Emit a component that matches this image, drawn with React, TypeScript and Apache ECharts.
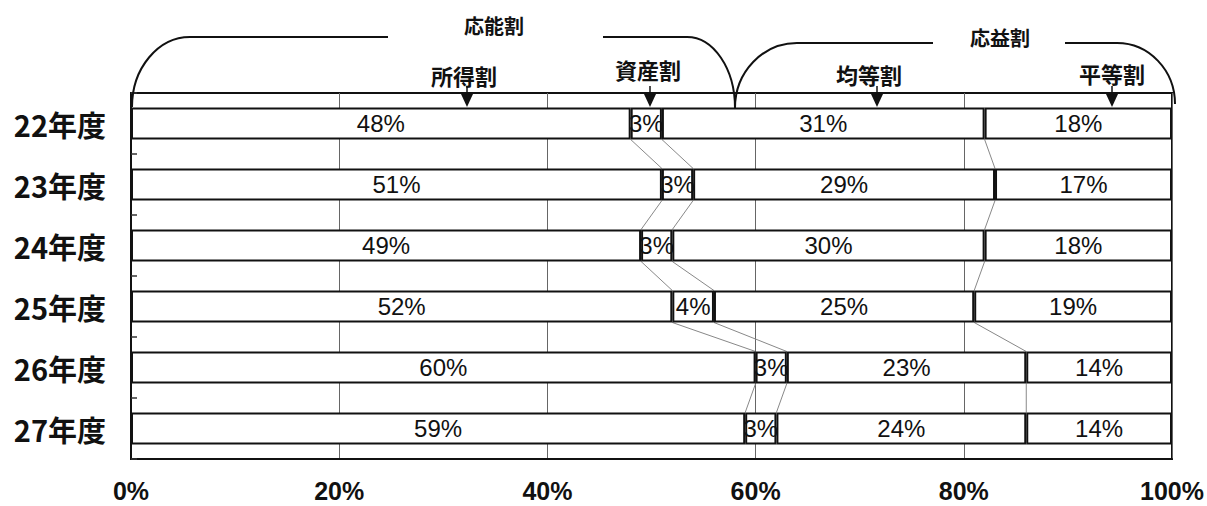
import React, { useEffect, useRef } from "react";
import * as echarts from "echarts";

const categories = ["22年度", "23年度", "24年度", "25年度", "26年度", "27年度"];
const seriesNames = ["所得割", "資産割", "均等割", "平等割"];
const shotoku = [48, 51, 49, 52, 60, 59];
const shisan = [3, 3, 3, 4, 3, 3];
const kintou = [31, 29, 30, 25, 23, 24];
const byoudou = [18, 17, 18, 19, 14, 14];
const xTicks = [0, 20, 40, 60, 80, 100];
const groupNames = ["応能割", "応益割"];

const LAT = "'Liberation Sans', Arial, sans-serif";
const CJK = "'Noto Sans CJK JP', 'Noto Sans', sans-serif";
const BAR_W = 32;

export default function App() {
  const ref = useRef<HTMLDivElement>(null);
  useEffect(() => {
    document.body.style.margin = "0";
    if (!ref.current) return;
    const chart = echarts.init(ref.current, null, { renderer: "svg" });
    const values = [shotoku, shisan, kintou, byoudou];
    const cum1 = shotoku.map((v) => v);
    const cum2 = shotoku.map((v, i) => v + shisan[i]);
    const cum3 = shotoku.map((v, i) => v + shisan[i] + kintou[i]);
    const bounds = [cum1, cum2, cum3];

    const barSeries = seriesNames.map((name, si) => ({
      name,
      type: "bar",
      stack: "total",
      barWidth: BAR_W,
      data: values[si],
      z: 3,
      itemStyle: { color: "#ffffff", borderColor: "#111", borderWidth: 2 },
      label: {
        show: true,
        position: "inside",
        formatter: "{c}%",
        color: "#111",
        fontSize: 24,
        fontFamily: LAT,
      },
    }));

    const stroke = { stroke: "#111", lineWidth: 2, fill: null };
    const k = 0.5523;
    const arcs = [
      { x1: 132, y1: 107, x2: 190, y2: 37, cpx1: 132, cpy1: 107 - k * 70, cpx2: 190 - k * 58, cpy2: 37 },
      { x1: 687, y1: 37, x2: 735, y2: 108, cpx1: 687 + k * 48, cpy1: 37, cpx2: 735, cpy2: 108 - k * 71 },
      { x1: 735, y1: 108, x2: 797, y2: 43, cpx1: 735, cpy1: 108 - k * 65, cpx2: 797 - k * 62, cpy2: 43 },
      { x1: 1117, y1: 43, x2: 1175, y2: 104, cpx1: 1117 + k * 58, cpy1: 43, cpx2: 1175, cpy2: 104 - k * 61 },
    ];
    const lines = [
      [190, 37, 388, 37],
      [603, 37, 687, 37],
      [797, 43, 933, 43],
      [1065, 43, 1117, 43],
    ];
    const subLabels = [
      { text: seriesNames[0], x: 464, y: 75, ax: 467 },
      { text: seriesNames[1], x: 648, y: 69, ax: 650 },
      { text: seriesNames[2], x: 869, y: 74, ax: 877 },
      { text: seriesNames[3], x: 1112, y: 73, ax: 1112 },
    ];
    const textStyle = (text: string, size: number) => ({
      text,
      fontSize: size,
      fontWeight: "bold",
      fontFamily: CJK,
      fill: "#111",
      align: "center",
      verticalAlign: "middle",
      textAlign: "center",
      textVerticalAlign: "middle",
    });
    const graphics: any[] = [];
    arcs.forEach((s) => graphics.push({ type: "bezierCurve", shape: s, style: stroke, z: 10 }));
    lines.forEach((l) =>
      graphics.push({ type: "line", shape: { x1: l[0], y1: l[1], x2: l[2], y2: l[3] }, style: stroke, z: 10 })
    );
    graphics.push({ type: "text", x: 494, y: 25, style: textStyle(groupNames[0], 20), z: 10 });
    graphics.push({ type: "text", x: 1000, y: 37, style: textStyle(groupNames[1], 20), z: 10 });
    subLabels.forEach((s) => {
      graphics.push({ type: "text", x: s.x, y: s.y, style: textStyle(s.text, 22), z: 10 });
      graphics.push({ type: "line", shape: { x1: s.ax, y1: 86, x2: s.ax, y2: 96 }, style: { stroke: "#111", lineWidth: 1.5 }, z: 10 });
      graphics.push({
        type: "polygon",
        shape: { points: [[s.ax - 6, 94], [s.ax + 6, 94], [s.ax, 107]] },
        style: { fill: "#111" },
        z: 10,
      });
    });

    chart.setOption({
      animation: false,
      backgroundColor: "#ffffff",
      grid: {
        left: 131,
        right: 35,
        top: 93,
        bottom: 47,
        show: true,
        borderColor: "#111",
        borderWidth: 2,
        backgroundColor: "transparent",
      },
      xAxis: {
        type: "value",
        min: xTicks[0],
        max: xTicks[xTicks.length - 1],
        interval: xTicks[1] - xTicks[0],
        axisLine: { show: true, lineStyle: { color: "#111", width: 2 } },
        axisTick: { show: false },
        splitLine: { show: true, lineStyle: { color: "#666", width: 1 } },
        axisLabel: {
          formatter: "{value}%",
          fontSize: 25,
          fontWeight: "bold",
          fontFamily: LAT,
          color: "#111",
          margin: 19,
        },
      },
      yAxis: {
        type: "category",
        data: categories,
        inverse: true,
        axisLine: { show: true, lineStyle: { color: "#111", width: 2 } },
        axisTick: { show: true, inside: true, length: 6, lineStyle: { color: "#333", width: 1.5 } },
        axisLabel: {
          fontSize: 29,
          fontWeight: "bold",
          fontFamily: CJK,
          color: "#111",
          margin: 25,
        },
      },
      series: [
        ...barSeries,
        {
          type: "custom",
          silent: true,
          z: 1,
          clip: false,
          data: categories.slice(0, categories.length - 1).map((c, i) => [0, i]),
          encode: { x: 0, y: 1 },
          renderItem: (params: any, api: any) => {
            const ci = api.value(1);
            const children = bounds.map((b) => {
              const p1 = api.coord([b[ci], ci]);
              const p2 = api.coord([b[ci + 1], ci + 1]);
              return {
                type: "line",
                shape: { x1: p1[0], y1: p1[1] + BAR_W / 2, x2: p2[0], y2: p2[1] - BAR_W / 2 },
                style: { stroke: "#888", lineWidth: 1 },
              };
            });
            return { type: "group", children };
          },
        },
      ],
      graphic: { elements: graphics },
    });
    return () => chart.dispose();
  }, []);
  return <div ref={ref} style={{ width: 1207, height: 506 }} />;
}
